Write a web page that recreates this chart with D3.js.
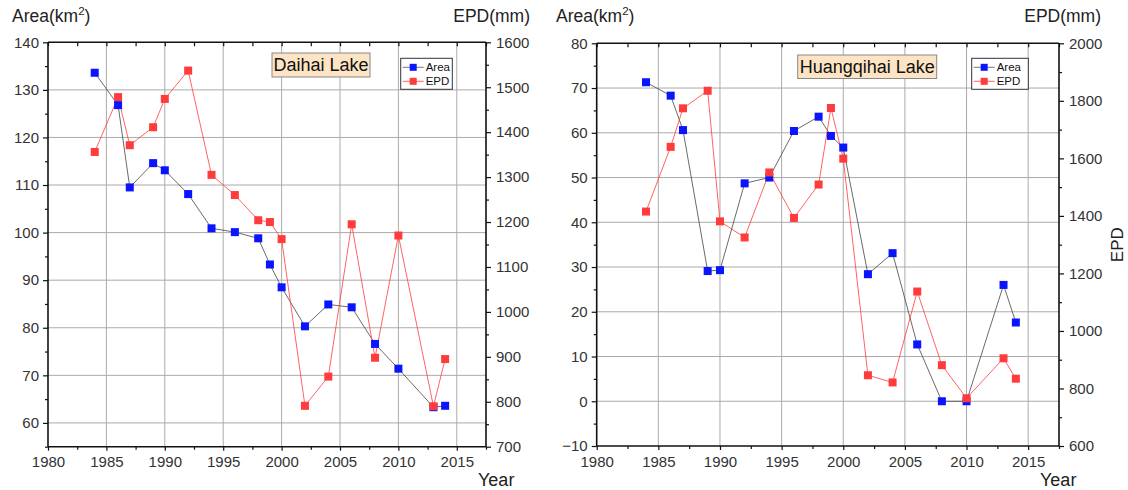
<!DOCTYPE html>
<html><head><meta charset="utf-8">
<script src="https://cdn.jsdelivr.net/npm/d3@7"></script>
<style>
html,body{margin:0;padding:0;background:#fff;}
svg{display:block;font-family:"Liberation Sans",Arial,sans-serif;}
</style></head>
<body>
<svg id="chart" width="1128" height="490"></svg>
<script>
// ---------- DATA ----------
const daihaiYears = [1984,1986,1987,1989,1990,1992,1994,1996,1998,1999,2000,2002,2004,2006,2008,2010,2013,2014];
const daihaiArea  = [133.6,126.8,109.5,114.6,113.1,108.1,100.9,100.1,98.8,93.3,88.5,80.3,84.9,84.3,76.6,71.4,63.3,63.6];
const daihaiEPD   = [1356,1478,1371,1411,1474,1537,1305,1260,1204,1200,1162,791,856,1195,898,1170,790,895];

const huangYears = [1984,1986,1987,1989,1990,1992,1994,1996,1998,1999,2000,2002,2004,2006,2008,2010,2013,2014];
const huangArea  = [71.3,68.3,60.6,29.1,29.3,48.7,50.0,60.4,63.6,59.3,56.7,28.4,33.1,12.7,0.0,0.0,26.0,17.6];
const huangEPD   = [1415,1640,1774,1835,1381,1325,1551,1393,1509,1775,1599,846,821,1137,881,766,905,834];

const yearTicks = [1980,1985,1990,1995,2000,2005,2010,2015];
const daihaiAreaTicks = [60,70,80,90,100,110,120,130,140];
const daihaiEPDTicks  = [700,800,900,1000,1100,1200,1300,1400,1500,1600];
const huangAreaTicks  = [-10,0,10,20,30,40,50,60,70,80];
const huangEPDTicks   = [600,800,1000,1200,1400,1600,1800,2000];

const panels = [
  {name:"Daihai Lake", years:daihaiYears, area:daihaiArea, epd:daihaiEPD,
   x0:48, x1:486, yTop:42.3, yBot:446.7,
   areaDomain:[55,140], epdDomain:[700,1600], areaTicks:daihaiAreaTicks, epdTicks:daihaiEPDTicks,
   areaMinor:5, epdMinor:50,
   titleBox:[272,53,98,24], legend:[400.7,58.3,51.6,31],
   areaLabelX:12, epdLabelRight:530, yearLabelX:478, epdSide:false},
  {name:"Huangqihai Lake", years:huangYears, area:huangArea, epd:huangEPD,
   x0:596.7, x1:1059, yTop:43.3, yBot:446,
   areaDomain:[-10,80], epdDomain:[600,2000], areaTicks:huangAreaTicks, epdTicks:huangEPDTicks,
   areaMinor:5, epdMinor:100,
   titleBox:[797.7,55,139,23.5], legend:[971.7,58.3,56.6,31],
   areaLabelX:556, epdLabelRight:1101, yearLabelX:1040, epdSide:true}
];

const svg = d3.select("#chart");
const blue = "#0a14ff", red = "#ff3b3b";
const textCol = "#222";
const fmt = d3.format("d");

panels.forEach(p => {
  const g = svg.append("g");
  const x = d3.scaleLinear().domain([1980,2017.5]).range([p.x0,p.x1]);
  const yA = d3.scaleLinear().domain(p.areaDomain).range([p.yBot,p.yTop]);
  const yE = d3.scaleLinear().domain(p.epdDomain).range([p.yBot,p.yTop]);

  // grid
  g.append("g").selectAll("line").data(yearTicks.filter(t=>t>1980))
    .join("line").attr("x1",d=>x(d)).attr("x2",d=>x(d)).attr("y1",p.yTop).attr("y2",p.yBot)
    .attr("stroke","#aaaaaa").attr("stroke-width",1);
  g.append("g").selectAll("line").data(p.areaTicks.filter(t=>t>p.areaDomain[0] && t<p.areaDomain[1]))
    .join("line").attr("x1",p.x0).attr("x2",p.x1).attr("y1",d=>yA(d)).attr("y2",d=>yA(d))
    .attr("stroke","#aaaaaa").attr("stroke-width",1);

  // axes
  const minorYears = d3.range(1980,2017.6,2.5);
  const bottomAxis = d3.axisBottom(x).tickValues(yearTicks).tickFormat(fmt).tickSize(4).tickPadding(6);
  const ba = g.append("g").attr("transform",`translate(0,${p.yBot})`).call(bottomAxis);
  const topAxis = d3.axisBottom(x).tickValues(minorYears).tickFormat("").tickSize(4);
  const ta = g.append("g").attr("transform",`translate(0,${p.yTop})`).call(topAxis);
  const bMinor = d3.axisBottom(x).tickValues(minorYears.filter(v=>v%5!==0)).tickFormat("").tickSize(3);
  const bm = g.append("g").attr("transform",`translate(0,${p.yBot})`).call(bMinor);

  const leftAxis = d3.axisLeft(yA).tickValues(p.areaTicks).tickFormat(fmt).tickSize(5).tickPadding(4);
  const la = g.append("g").attr("transform",`translate(${p.x0},0)`).call(leftAxis);
  const lMinorVals = d3.range(p.areaDomain[0], p.areaDomain[1]+0.01, p.areaMinor).filter(v=>!p.areaTicks.includes(v));
  const lm = g.append("g").attr("transform",`translate(${p.x0},0)`).call(d3.axisLeft(yA).tickValues(lMinorVals).tickFormat("").tickSize(3));

  const rightAxis = d3.axisRight(yE).tickValues(p.epdTicks).tickFormat(fmt).tickSize(5).tickPadding(5);
  const ra = g.append("g").attr("transform",`translate(${p.x1},0)`).call(rightAxis);
  const rMinorVals = d3.range(p.epdDomain[0], p.epdDomain[1]+0.01, p.epdMinor).filter(v=>!p.epdTicks.includes(v));
  const rm = g.append("g").attr("transform",`translate(${p.x1},0)`).call(d3.axisRight(yE).tickValues(rMinorVals).tickFormat("").tickSize(3));

  [ba,ta,bm,la,lm,ra,rm].forEach(a=>{
    a.select(".domain").attr("stroke","#111").attr("stroke-width",1.6);
    a.selectAll(".tick line").attr("stroke","#111").attr("stroke-width",1.2);
    a.selectAll(".tick text").attr("fill","#333").style("font-size","15px").style("font-family","'Liberation Sans',Arial,sans-serif");
  });
  ta.select(".domain").attr("d",`M${p.x0},0H${p.x1}`);
  bm.select(".domain").remove(); lm.select(".domain").remove(); rm.select(".domain").remove();
  ba.select(".domain").attr("d",`M${p.x0},0H${p.x1}`);
  la.select(".domain").attr("d",`M0,${p.yBot}V${p.yTop}`);
  ra.select(".domain").attr("d",`M0,${p.yBot}V${p.yTop}`);

  // lines
  const idx = d3.range(p.years.length);
  const lineA = d3.line().x(i=>x(p.years[i])).y(i=>yA(p.area[i]));
  const lineE = d3.line().x(i=>x(p.years[i])).y(i=>yE(p.epd[i]));
  g.append("path").attr("d",lineA(idx)).attr("fill","none").attr("stroke","#444").attr("stroke-width",0.8);
  g.append("path").attr("d",lineE(idx)).attr("fill","none").attr("stroke",red).attr("stroke-width",0.8);
  const ms = 8;
  g.append("g").selectAll("rect").data(idx).join("rect")
    .attr("x",i=>x(p.years[i])-ms/2).attr("y",i=>yA(p.area[i])-ms/2).attr("width",ms).attr("height",ms).attr("fill",blue);
  g.append("g").selectAll("rect").data(idx).join("rect")
    .attr("x",i=>x(p.years[i])-ms/2).attr("y",i=>yE(p.epd[i])-ms/2).attr("width",ms).attr("height",ms).attr("fill",red);

  // title box
  const [tx,ty,tw,th] = p.titleBox;
  g.append("rect").attr("x",tx).attr("y",ty).attr("width",tw).attr("height",th)
    .attr("fill","#fce4c4").attr("stroke","#888").attr("stroke-width",1);
  g.append("text").attr("x",tx+tw/2).attr("y",ty+th/2+6).attr("text-anchor","middle")
    .style("font-size","18px").attr("fill","#111").text(p.name);

  // legend
  const [lx,ly,lw,lh] = p.legend;
  g.append("rect").attr("x",lx).attr("y",ly).attr("width",lw).attr("height",lh)
    .attr("fill","#fff").attr("stroke","#333").attr("stroke-width",1);
  [["Area",blue,"#555"],["EPD",red,red]].forEach((e,k)=>{
    const yy = ly+9+k*14;
    g.append("line").attr("x1",lx+2).attr("x2",lx+23).attr("y1",yy).attr("y2",yy).attr("stroke",e[2]).attr("stroke-width",0.8);
    g.append("rect").attr("x",lx+12.5-3.5).attr("y",yy-3.5).attr("width",7).attr("height",7).attr("fill",e[1]);
    g.append("text").attr("x",lx+25).attr("y",yy+4).style("font-size","11.5px").attr("fill","#111").text(e[0]);
  });

  // axis titles
  const at = g.append("text").attr("x",p.areaLabelX).attr("y",22).style("font-size","17.5px").attr("fill",textCol);
  at.append("tspan").text("Area(km");
  at.append("tspan").attr("dy",-7).style("font-size","11.5px").text("2");
  at.append("tspan").attr("dy",7).text(")");
  g.append("text").attr("x",p.epdLabelRight).attr("y",22).attr("text-anchor","end").style("font-size","17.5px").attr("fill",textCol).text("EPD(mm)");
  g.append("text").attr("x",p.yearLabelX).attr("y",486).style("font-size","18px").attr("fill",textCol).text("Year");
  if (p.epdSide) {
    g.append("text").attr("transform",`translate(1123,${(p.yTop+p.yBot)/2}) rotate(-90)`)
      .attr("text-anchor","middle").style("font-size","17px").attr("fill",textCol).text("EPD");
  }
});
</script>
</body></html>
